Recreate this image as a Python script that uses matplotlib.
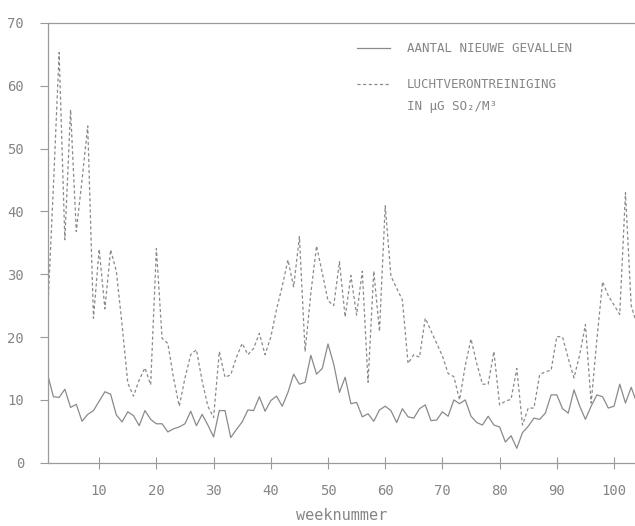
import matplotlib
matplotlib.use("Agg")
import matplotlib.pyplot as plt

# plotter-achtige stijl
plt.rcParams.update({"font.family": ["DejaVu Sans Mono", "DejaVu Sans"], "axes.unicode_minus": False})

# weeknummers en de twee reeksen
weken = list(range(1, 105))

nieuwe_gevallen = [
    14.0, 10.5, 10.4, 11.7, 8.8, 9.3, 6.6, 7.7, 8.3, 9.8,
    11.3, 10.9, 7.6, 6.5, 8.1, 7.5, 5.9, 8.3, 6.9, 6.2,
    6.2, 4.9, 5.4, 5.7, 6.2, 8.2, 5.9, 7.7, 6.0, 4.1,
    8.3, 8.3, 4.0, 5.3, 6.5, 8.4, 8.3, 10.5, 8.2, 9.9,
    10.6, 9.0, 11.2, 14.1, 12.5, 12.8, 17.1, 14.1, 15.0, 18.9,
    15.7, 11.2, 13.6, 9.4, 9.6, 7.3, 7.8, 6.6, 8.4, 9.0,
    8.3, 6.4, 8.6, 7.3, 7.1, 8.6, 9.2, 6.7, 6.8, 8.1,
    7.4, 10.0, 9.4, 10.0, 7.4, 6.4, 6.0, 7.4, 6.0, 5.7,
    3.3, 4.3, 2.3, 4.8, 5.8, 7.1, 6.9, 7.9, 10.8, 10.8,
    8.6, 7.9, 11.6, 9.0, 6.9, 9.0, 10.8, 10.5, 8.7, 9.0,
    12.5, 9.5, 12.0, 9.5,
]

so2 = [
    24.0, 44.0, 65.3, 35.5, 56.2, 36.8, 45.0, 53.6, 23.0, 34.0,
    24.5, 33.9, 30.5, 22.0, 12.7, 10.6, 13.2, 15.1, 12.4, 34.1,
    19.8, 19.0, 13.5, 9.0, 13.5, 17.2, 18.0, 13.0, 9.0, 7.2,
    17.7, 13.6, 14.0, 16.8, 19.0, 17.2, 18.2, 20.6, 17.2, 20.0,
    24.4, 28.1, 32.3, 28.0, 36.0, 17.7, 27.0, 34.5, 30.2, 25.8,
    25.0, 32.0, 23.2, 29.8, 23.5, 30.5, 12.8, 30.5, 20.9, 40.9,
    29.7, 27.8, 25.9, 15.8, 17.2, 16.8, 23.0, 21.0, 19.0, 17.0,
    14.2, 13.7, 10.0, 15.5, 19.7, 15.8, 12.5, 12.5, 17.7, 9.2,
    9.8, 10.1, 15.0, 6.0, 8.7, 8.7, 14.0, 14.5, 14.7, 20.1,
    20.0, 16.6, 13.5, 17.2, 22.0, 9.5, 19.6, 28.8, 26.6, 25.1,
    23.6, 43.0, 25.0, 22.0,
]

grijs = "#8a8a8a"
tekst = "#858585"

fig = plt.figure(figsize=(6.35, 5.26), dpi=100)
ax = fig.add_axes([0.0751, 0.1203, 0.9243, 0.836])

ax.plot(weken, nieuwe_gevallen, color=grijs, linewidth=0.9, label="AANTAL NIEUWE GEVALLEN")
ax.plot(weken, so2, color=grijs, linewidth=0.9, linestyle=(0, (2.5, 2)), label="LUCHTVERONTREINIGING")

ax.set_xlim(1, 103.6)
ax.set_ylim(0, 70)
ax.set_xticks(range(10, 101, 10))
ax.set_yticks(range(0, 71, 10))

for side in ["left", "bottom", "top"]:
    ax.spines[side].set_color("#9a9a9a")
    ax.spines[side].set_linewidth(0.9)
ax.spines["right"].set_visible(False)

ax.tick_params(axis="y", direction="out", length=6, width=0.8, color="#9a9a9a",
               labelcolor=tekst, labelsize=10, pad=11)
ax.tick_params(axis="x", direction="inout", length=9, width=0.8, color="#9a9a9a",
               labelcolor=tekst, labelsize=10, pad=11)

ax.set_xlabel("weeknummer", fontsize=11, color=tekst, labelpad=7)

leg = ax.legend(loc="upper left", bbox_to_anchor=(0.527, 0.957), frameon=False,
                fontsize=9, handlelength=2.64, handletextpad=1.36, labelspacing=1.87,
                borderpad=0, borderaxespad=0)
for t in leg.get_texts():
    t.set_color(tekst)

ax.text(0.612, 0.809, "IN µG SO₂/M³", transform=ax.transAxes, fontsize=9,
        color=tekst, va="center", ha="left")

plt.savefig("out.png", dpi=100)
